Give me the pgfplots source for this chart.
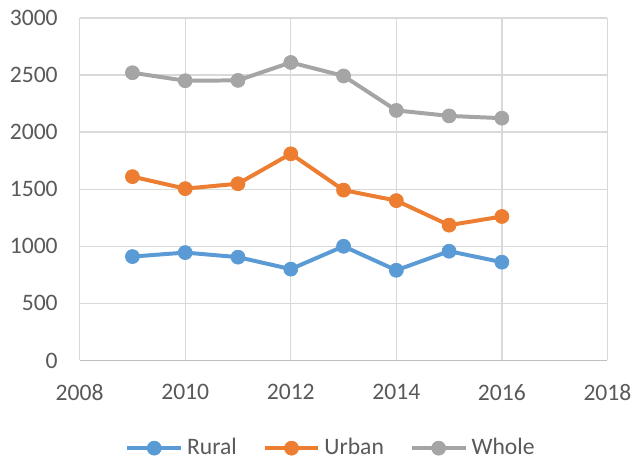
\documentclass[border=0pt]{standalone}
\usepackage{pgfplots}
\pgfplotsset{compat=1.18}
\usepackage{fontspec}
\setmainfont{Carlito}
\definecolor{cRural}{HTML}{5B9BD5}
\definecolor{cUrban}{HTML}{ED7D31}
\definecolor{cWhole}{HTML}{A5A5A5}
\definecolor{cGrid}{HTML}{D9D9D9}
\definecolor{cAxis}{HTML}{BFBFBF}
\definecolor{cText}{HTML}{595959}
\begin{document}
\begin{tikzpicture}
\begin{axis}[
  name=ax,
  scale only axis,
  width=265pt, height=172pt,
  xmin=2008, xmax=2018, ymin=0, ymax=3000,
  xtick={2008,2010,...,2018},
  ytick={0,500,...,3000},
  /pgf/number format/1000 sep={},
  /pgf/number format/assume math mode=true,
  tick label style={font=\fontsize{11.85}{14}\selectfont, text=cText},
  xticklabel style={yshift=-8.5pt},
  yticklabel style={xshift=-7.5pt},
  major tick length=0pt,
  grid=major,
  major grid style={cGrid, line width=0.7pt},
  axis x line*=bottom,
  axis y line*=left,
  x axis line style={cAxis, line width=0.8pt},
  y axis line style={cGrid, line width=0.7pt},
  every axis plot/.append style={line width=2pt, mark=*, mark size=3.5pt, mark options={solid, line width=0.4pt}},
  legend style={at={(0.478,-0.256)}, anchor=center, draw=none, fill=none,
    font=\fontsize{11.85}{14}\selectfont, text=cText,
    /tikz/every even column/.append style={column sep=11pt}},
  legend columns=3,
  legend cell align=left,
  legend image code/.code={\draw[mark repeat=2,mark phase=2,#1] plot coordinates {(0pt,0pt)(13.5pt,0pt)(27pt,0pt)};},
]
\addplot[color=cRural] coordinates {(2009,910)(2010,945)(2011,905)(2012,800)(2013,1000)(2014,790)(2015,957)(2016,861)};
\addlegendentry{Rural}
\addplot[color=cUrban] coordinates {(2009,1610)(2010,1505)(2011,1548)(2012,1810)(2013,1492)(2014,1400)(2015,1185)(2016,1261)};
\addlegendentry{Urban}
\addplot[color=cWhole] coordinates {(2009,2520)(2010,2450)(2011,2453)(2012,2610)(2013,2492)(2014,2190)(2015,2142)(2016,2122)};
\addlegendentry{Whole}
\end{axis}
\path[use as bounding box] ([shift={(-40pt,-49.5pt)}]ax.south west) rectangle ([shift={(14pt,9pt)}]ax.north east);
\end{tikzpicture}
\end{document}
